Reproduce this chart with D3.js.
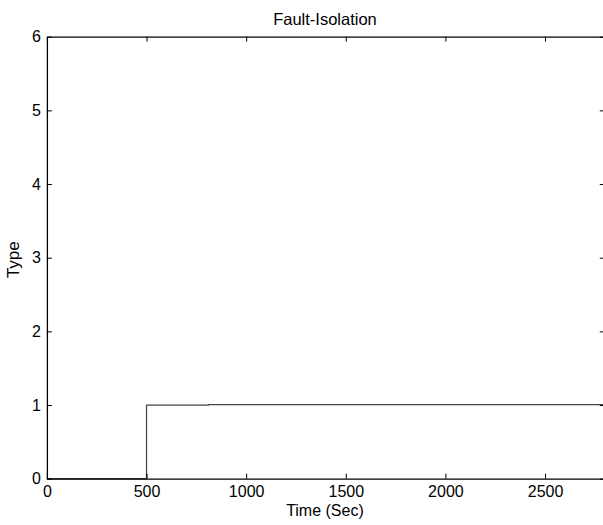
<!DOCTYPE html>
<html><head><meta charset="utf-8">
<script src="https://cdn.jsdelivr.net/npm/d3@7"></script>
<style>html,body{margin:0;padding:0;background:#fff;overflow:hidden}</style>
</head><body>
<svg id="c" width="603" height="525"></svg>
<script>
// Data
const timeSec = [0, 500, 500, 810, 810, 2800];
const typeVal = [0, 0, 1, 1, 1.006, 1.006];
const xTicks = [0, 500, 1000, 1500, 2000, 2500];
const yTicks = [0, 1, 2, 3, 4, 5, 6];
const titleText = "Fault-Isolation";
const xLabel = "Time (Sec)";
const yLabel = "Type";

const svg = d3.select("#c");
const L = 46.9, R = 604.8, T = 36.7, B = 478.7;
const x = d3.scaleLinear().domain([0, 2800]).range([L, R]);
const y = d3.scaleLinear().domain([0, 6]).range([B, T]);
const font = "Liberation Sans, Arial, Helvetica, sans-serif";
const fmt = d3.format("d");

svg.append("rect").attr("width", 603).attr("height", 525).attr("fill", "#fff");

// step line
const pts = timeSec.map((t, i) => [t, typeVal[i]]);
svg.append("path").datum(pts)
  .attr("d", d3.line().x(d => x(d[0])).y(d => y(d[1])))
  .attr("fill", "none").attr("stroke", "#444").attr("stroke-width", 1.2);

// axes
const tk = 5;
const gB = svg.append("g").attr("transform", `translate(0,${B})`)
  .call(d3.axisBottom(x).tickValues(xTicks).tickSizeInner(-tk).tickSizeOuter(0).tickPadding(7).tickFormat(fmt));
const gT = svg.append("g").attr("transform", `translate(0,${T})`)
  .call(d3.axisTop(x).tickValues(xTicks).tickSizeInner(-tk).tickSizeOuter(0).tickFormat(""));
const gL = svg.append("g").attr("transform", `translate(${L},0)`)
  .call(d3.axisLeft(y).tickValues(yTicks).tickSizeInner(-tk).tickSizeOuter(0).tickPadding(6).tickFormat(fmt));
const gR = svg.append("g").attr("transform", `translate(${R},0)`)
  .call(d3.axisRight(y).tickValues(yTicks).tickSizeInner(-tk).tickSizeOuter(0).tickFormat(""));
[gB, gT, gL, gR].forEach(g => {
  g.selectAll(".domain").attr("stroke", "#000").attr("stroke-width", 1.3);
  g.selectAll(".tick line").attr("stroke", "#000").attr("stroke-width", 1);
  g.selectAll("text").attr("font-family", font).attr("font-size", 16).attr("fill", "#000");
});

svg.append("text").attr("x", (L + 603) / 2).attr("y", 25).attr("text-anchor", "middle")
  .attr("font-family", font).attr("font-size", 16.5).text(titleText);
svg.append("text").attr("x", (L + 603) / 2).attr("y", 516).attr("text-anchor", "middle")
  .attr("font-family", font).attr("font-size", 16).text(xLabel);
svg.append("text").attr("transform", `translate(19,${(T + B) / 2 + 2}) rotate(-90)`).attr("text-anchor", "middle")
  .attr("font-family", font).attr("font-size", 17).text(yLabel);
</script>
</body></html>
